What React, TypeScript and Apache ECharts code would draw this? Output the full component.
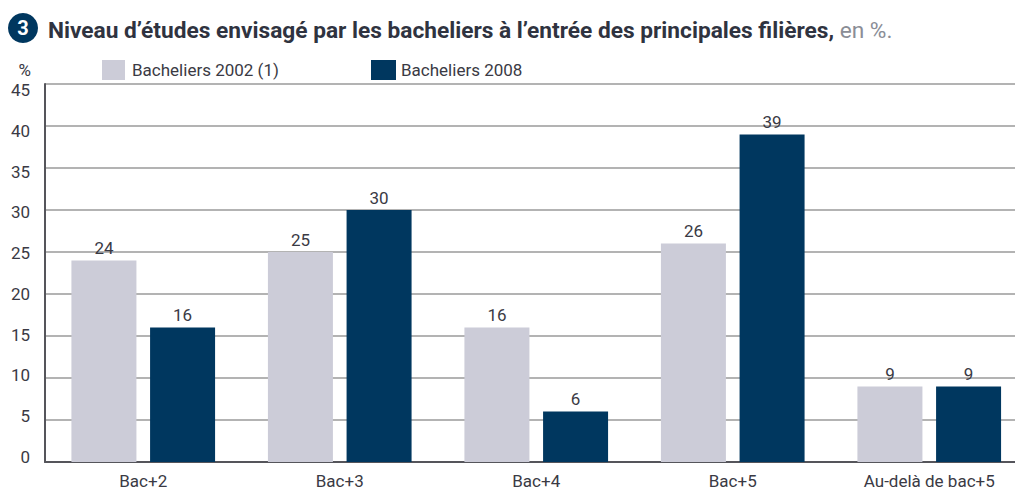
import React, { useEffect, useRef } from "react";
import * as echarts from "echarts";

const categories = ["Bac+2", "Bac+3", "Bac+4", "Bac+5", "Au-delà de bac+5"];
const bacheliers2002 = [24, 25, 16, 26, 9];
const bacheliers2008 = [16, 30, 6, 39, 9];
const name2002 = "Bacheliers 2002 (1)";
const name2008 = "Bacheliers 2008";
const titleBold = "Niveau d’études envisagé par les bacheliers à l’entrée des principales filières,";
const titleLight = " en %.";

const FONT = "Roboto, sans-serif";
const TEXT = "#3a3a44";

export default function App() {
  const ref = useRef<HTMLDivElement>(null);
  useEffect(() => {
    document.body.style.margin = "0";
    const chart = echarts.init(ref.current!, null, { renderer: "svg" });
    const label = {
      show: true,
      position: "top" as const,
      distance: 4,
      fontFamily: FONT,
      fontSize: 17,
      color: TEXT,
    };
    chart.setOption({
      animation: false,
      backgroundColor: "#ffffff",
      textStyle: { fontFamily: FONT },
      title: {
        left: 43,
        top: 14,
        text: `{b|${titleBold}}{l|${titleLight}}`,
        textStyle: {
          rich: {
            b: { fontFamily: FONT, fontWeight: "bold", fontSize: 22.7, color: "#2f3340" },
            l: { fontFamily: FONT, fontWeight: "normal", fontSize: 22.7, color: "#8a8d96" },
          },
        },
      },
      legend: [
        {
          data: [name2002],
          left: 97,
          top: 55,
          itemWidth: 23,
          itemHeight: 20,
          itemGap: 6,
          icon: "rect",
          textStyle: { fontFamily: FONT, fontSize: 17, color: TEXT, padding: [2, 0, 0, 2] },
        },
        {
          data: [name2008],
          left: 366,
          top: 55,
          itemWidth: 25,
          itemHeight: 20,
          itemGap: 2,
          icon: "rect",
          textStyle: { fontFamily: FONT, fontSize: 17, color: TEXT, padding: [2, 0, 0, 0] },
        },
      ],
      grid: [
        { left: 45, top: 84, width: 982.5, height: 378.5 },
        { left: 45, top: 90, width: 982.5, height: 367 },
      ],
      xAxis: [
        {
          type: "category",
          data: categories,
          gridIndex: 0,
          axisLine: { lineStyle: { color: "#55555b", width: 2 } },
          axisTick: { show: false },
          axisLabel: { fontFamily: FONT, fontSize: 17, color: TEXT, margin: 10 },
        },
        { type: "category", data: categories, gridIndex: 1, show: false },
      ],
      yAxis: [
        {
          type: "value",
          gridIndex: 0,
          min: 0,
          max: 45,
          interval: 5,
          name: "%",
          nameLocation: "end",
          nameGap: 6,
          nameTextStyle: { fontFamily: FONT, fontSize: 17, color: TEXT, align: "right", padding: [0, 14, 0, 0] },
          axisLine: { show: true, lineStyle: { color: "#55555b", width: 2 } },
          axisTick: { show: false },
          axisLabel: { show: false },
          splitLine: { show: true, lineStyle: { color: "#b3b3b3", width: 2 } },
        },
        {
          type: "value",
          gridIndex: 1,
          min: 0,
          max: 45,
          interval: 5,
          axisLine: { show: false },
          axisTick: { show: false },
          axisLabel: { fontFamily: FONT, fontSize: 17, color: TEXT, margin: 15 },
          splitLine: { show: false },
        },
      ],
      series: [
        {
          name: name2002,
          type: "bar",
          data: bacheliers2002,
          barWidth: 65,
          barGap: "21%",
          itemStyle: { color: "#ccccd8" },
          label,
        },
        {
          name: name2008,
          type: "bar",
          data: bacheliers2008,
          barWidth: 65,
          itemStyle: { color: "#00375f" },
          label,
        },
      ],
      graphic: [
        { type: "circle", shape: { cx: 23, cy: 28, r: 15 }, style: { fill: "#00375f" } },
        {
          type: "text",
          x: 23,
          y: 28,
          style: {
            text: "3",
            fill: "#ffffff",
            font: "bold 20px Roboto, sans-serif",
            textAlign: "center",
            textVerticalAlign: "middle",
          },
        },
      ],
    });
    return () => chart.dispose();
  }, []);
  return (
    <div style={{ width: 1015, height: 489, overflow: "hidden" }}>
      <div ref={ref} style={{ width: 1040, height: 489 }} />
    </div>
  );
}
